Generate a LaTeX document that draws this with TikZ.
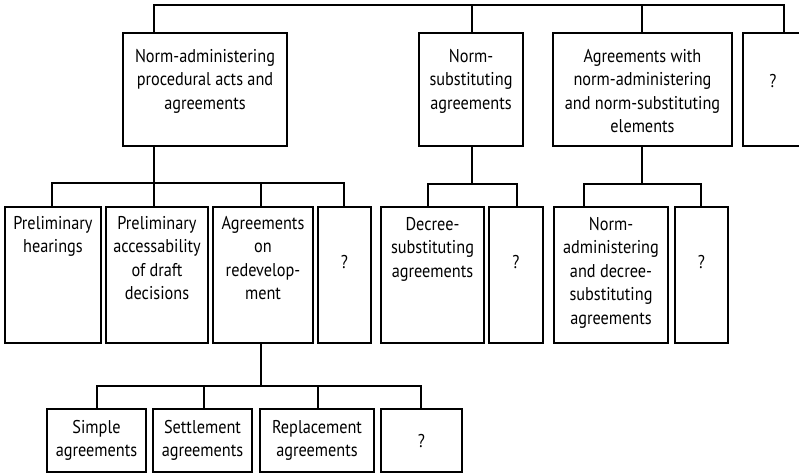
\documentclass[tikz,border=0pt]{standalone}
\usepackage{fontspec}
\setmainfont[FakeStretch=0.88]{PT Sans}
\begin{document}
\begin{tikzpicture}[x=1pt,y=-1pt,
  box/.style={draw, line width=1.6pt, inner sep=0pt, outer sep=0pt},
  wire/.style={line width=1.6pt},
  txt/.style={align=center, inner sep=0pt, font=\fontsize{18.5}{23.5}\selectfont}]
\useasboundingbox (0,0) rectangle (799,474);
\clip (0,0) rectangle (799,474);
% ---------- level 1
\node[box, minimum width=164pt, minimum height=113pt] (T1) at (205,89.5) {};
\node[box, minimum width=104pt, minimum height=113pt] (T2) at (471,89.5) {};
\node[box, minimum width=179pt, minimum height=113pt] (T3) at (642.5,89.5) {};
\node[box, minimum width=60pt, minimum height=113pt] (T4) at (773,89.5) {};
\node[txt, anchor=north] (t1) at ([yshift=-16pt]T1.north) {Norm-administering\\procedural acts and\\agreements};
\node[txt, anchor=north] (t2) at ([yshift=-16pt]T2.north) {Norm-\\substituting\\agreements};
\node[txt, anchor=north] (t3) at ([yshift=-16pt]T3.north) {Agreements with\\norm-administering\\and norm-substituting\\elements};
\node[txt] (t4) at ([yshift=8pt]T4.center) {?};
% ---------- level 2
\node[box, minimum width=96pt, minimum height=136pt] (A) at (53,275) {};
\node[box, minimum width=102pt, minimum height=136pt] (B) at (157,275) {};
\node[box, minimum width=100pt, minimum height=136pt] (C) at (263,275) {};
\node[box, minimum width=53pt, minimum height=136pt] (D) at (344.5,275) {};
\node[box, minimum width=103pt, minimum height=136pt] (E) at (432.5,275) {};
\node[box, minimum width=54pt, minimum height=136pt] (F) at (516,275) {};
\node[box, minimum width=114pt, minimum height=136pt] (G) at (611,275) {};
\node[box, minimum width=53pt, minimum height=136pt] (H) at (701.5,275) {};
\node[txt, anchor=north] (ta) at ([yshift=-9pt]A.north) {Preliminary\\hearings};
\node[txt, anchor=north] (tb) at ([yshift=-9pt]B.north) {Preliminary\\accessability\\of draft\\decisions};
\node[txt, anchor=north] (tc) at ([yshift=-9pt]C.north) {Agreements\\on\\redevelop-\\ment};
\node[txt] (td) at ([yshift=12.5pt]D.center) {?};
\node[txt, anchor=north] (te) at ([yshift=-10pt]E.north) {Decree-\\substituting\\agreements};
\node[txt] (tf) at ([yshift=12.5pt]F.center) {?};
\node[txt, anchor=north] (tg) at ([yshift=-10pt]G.north) {Norm-\\administering\\and decree-\\substituting\\agreements};
\node[txt] (th) at ([yshift=12.5pt]H.center) {?};
% ---------- level 3
\node[box, minimum width=99pt, minimum height=63pt] (I) at (96.5,440.5) {};
\node[box, minimum width=99pt, minimum height=63pt] (J) at (202.5,440.5) {};
\node[box, minimum width=114pt, minimum height=63pt] (K) at (317,440.5) {};
\node[box, minimum width=81pt, minimum height=63pt] (L) at (421.5,440.5) {};
\node[txt] (ti) at (I.center) {Simple\\agreements};
\node[txt] (tj) at (J.center) {Settlement\\agreements};
\node[txt] (tk) at (K.center) {Replacement\\agreements};
\node[txt] (tl) at ([yshift=-1pt]L.center) {?};
% ---------- connectors
% top bus
\coordinate (r1) at (154,5);
\coordinate (r2) at (472,5);
\coordinate (r3) at (642,5);
\coordinate (r4) at (784,5);
\draw[wire] (r1 |- T1.north) -- (r1) -- (r4) -- (r4 |- T4.north);
\draw[wire] (r2) -- (r2 |- T2.north);
\draw[wire] (r3) -- (r3 |- T3.north);
% left group
\coordinate (a1) at (52,183);
\coordinate (a2) at (154,183);
\coordinate (a3) at (261,183);
\coordinate (a4) at (344,183);
\draw[wire] (a2 |- T1.south) -- (a2);
\draw[wire] (a1 |- A.north) -- (a1) -- (a4) -- (a4 |- D.north);
\draw[wire] (a2) -- (a2 |- B.north);
\draw[wire] (a3) -- (a3 |- C.north);
% middle group
\coordinate (m1) at (428,184);
\coordinate (m0) at (472,184);
\coordinate (m2) at (517,184);
\draw[wire] (m0 |- T2.south) -- (m0);
\draw[wire] (m1 |- E.north) -- (m1) -- (m2) -- (m2 |- F.north);
% right group
\coordinate (n1) at (584,184);
\coordinate (n0) at (642,184);
\coordinate (n2) at (701,184);
\draw[wire] (n0 |- T3.south) -- (n0);
\draw[wire] (n1 |- G.north) -- (n1) -- (n2) -- (n2 |- H.north);
% bottom group
\coordinate (k0) at (261,386);
\coordinate (k1) at (97,386);
\coordinate (k2) at (204,386);
\coordinate (k3) at (318,386);
\coordinate (k4) at (421,386);
\draw[wire] (k0 |- C.south) -- (k0);
\draw[wire] (k1 |- I.north) -- (k1) -- (k4) -- (k4 |- L.north);
\draw[wire] (k2) -- (k2 |- J.north);
\draw[wire] (k3) -- (k3 |- K.north);
\end{tikzpicture}
\end{document}
